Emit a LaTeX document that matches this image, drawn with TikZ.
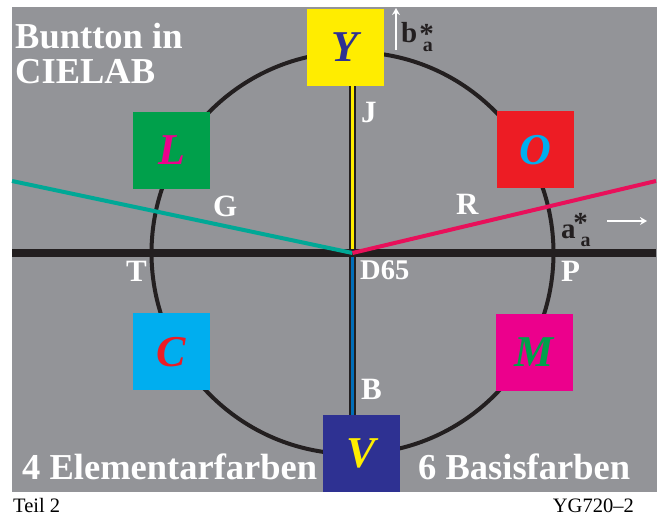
\documentclass[tikz,border=0pt]{standalone}
\usepackage{fontspec}
\setmainfont{Liberation Serif}
\usetikzlibrary{arrows.meta}
\definecolor{bggray}{RGB}{147,148,152}
\definecolor{cyel}{RGB}{255,237,0}
\definecolor{cgreen}{RGB}{0,160,75}
\definecolor{cred}{RGB}{237,28,36}
\definecolor{ccyan}{RGB}{0,174,239}
\definecolor{cmag}{RGB}{236,0,140}
\definecolor{cdblue}{RGB}{46,49,146}
\definecolor{cteal}{RGB}{0,168,150}
\definecolor{cpink}{RGB}{232,16,90}
\definecolor{cblue}{RGB}{0,110,185}
\definecolor{cline}{RGB}{35,31,32}
\tikzset{
  sqbox/.style={minimum size=77pt, inner sep=0pt, outer sep=0pt},
  sqletter/.style={font=\fontsize{44}{44}\selectfont\bfseries\itshape},
  lbl/.style={text=white, inner sep=0pt, anchor=base west, font=\fontsize{31}{31}\selectfont\bfseries},
  bigtxt/.style={text=white, inner sep=0pt, anchor=base west, font=\fontsize{36.5}{36.5}\selectfont\bfseries},
  axtxt/.style={text=cline, inner sep=0pt, anchor=base west, font=\fontsize{29}{29}\selectfont\bfseries},
  foot/.style={text=black, inner sep=0pt, font=\fontsize{20.5}{20.5}\selectfont},
  whitearrow/.style={white, line width=2pt, -{Stealth[length=7pt,width=8pt]}}
}
\newcommand{\subA}{\fontsize{20}{20}\selectfont a}
\begin{document}
\begin{tikzpicture}[x=1pt,y=-1pt]
\useasboundingbox (0,0) rectangle (662,518);
\fill[bggray] (12,7) rectangle (657,492);
% circle
\coordinate (D65) at (352.5,253);
\draw[cline, line width=4pt] (D65) circle (201);
% squares (for positions)
\node[sqbox, fill=cyel] (Ysq) at (345,47.5) {};
\node[sqbox, fill=cdblue] (Vsq) at (361.5,453.5) {};
% axes
\draw[cline, line width=7.5pt] (D65 |- Ysq.south) -- (D65 |- Vsq.north);
\coordinate (Hl) at (12,253);
\coordinate (Hr) at (656,253);
\draw[cline, line width=7.5pt] (Hl) -- (Hr);
\draw[cyel, line width=3.5pt] (D65 |- Ysq.south) -- (352.5,249.3);
\draw[cblue, line width=3.5pt] (352.5,256.7) -- (D65 |- Vsq.north);
% hue lines
\coordinate (Gend) at (12,181);
\coordinate (Rend) at (656,181);
\draw[cteal, line width=4pt] (Gend) -- (D65);
\draw[cpink, line width=4pt] (D65) -- (Rend);
% colour squares
\node[sqbox, fill=cyel, text=cdblue, sqletter] (Y) at (345,47.5) {Y};
\node[sqbox, fill=cdblue, text=cyel, sqletter] (V) at (361.5,453.5) {V};
\node[sqbox, fill=cgreen, text=cmag, sqletter] (L) at (171.5,150.5) {L};
\node[sqbox, fill=cred, text=ccyan, sqletter] (O) at (535,150) {O};
\node[sqbox, fill=ccyan, text=cred, sqletter] (C) at (171,352) {C};
\node[sqbox, fill=cmag, text=cgreen, sqletter] (M) at (534.5,352.5) {M};
% labels
\node[lbl] (J) at (361,123) {J};
\node[lbl] (G) at (213,217) {G};
\node[lbl] (R) at (456,215) {R};
\node[lbl] (T) at (126,282) {T};
\node[lbl, font=\fontsize{28.5}{28.5}\selectfont\bfseries] (D) at (360,280) {D65};
\node[lbl] (P) at (561,282) {P};
\node[lbl] (B) at (361,400) {B};
% axis labels
\node[axtxt] (bA) at (401,43) {b\makebox[0pt][l]{\kern2pt\raisebox{-1pt}{*}}\kern5.5pt\raisebox{-9pt}{\subA}};
\coordinate (bArrS) at (396,50);
\coordinate (bArrE) at (396,8);
\draw[whitearrow] (bArrS) -- (bArrE);
\node[axtxt] (aA) at (561,239) {a\makebox[0pt][l]{\kern-2.25pt\raisebox{6pt}{*}}\kern5pt\raisebox{-8pt}{\subA}};
\coordinate (aArrS) at (607,221);
\coordinate (aArrE) at (647,221);
\draw[whitearrow] (aArrS) -- (aArrE);
% texts
\node[bigtxt] (t1) at (15,49) {Buntton in};
\node[bigtxt] (t2) at (15,84) {CIELAB};
\node[bigtxt] (t3) at (22,480) {4 Elementarfarben};
\node[bigtxt] (t4) at (418,480) {6 Basisfarben};
\node[foot, anchor=base west] (f1) at (13,513) {Teil 2};
\node[foot, anchor=base east] (f2) at (634,513) {YG720–2};
\end{tikzpicture}
\end{document}
